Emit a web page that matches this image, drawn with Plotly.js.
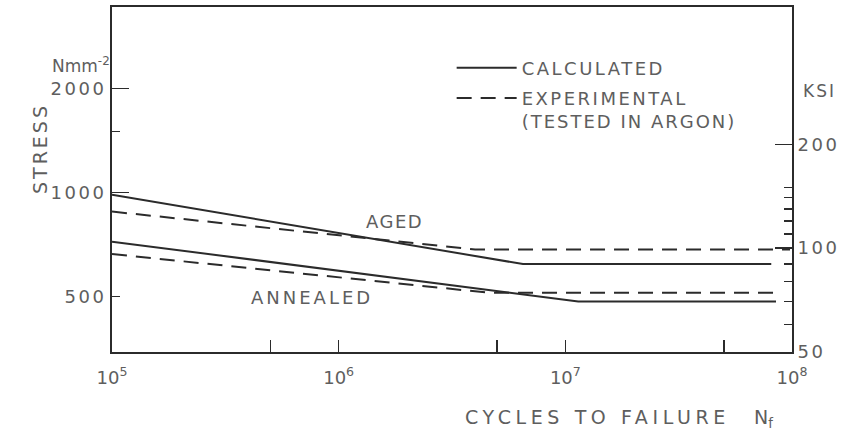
<!DOCTYPE html>
<html>
<head>
<meta charset="utf-8">
<script src="https://cdn.plot.ly/plotly-3.0.1.min.js"></script>
<style>html,body{margin:0;padding:0;background:#fff;}#chart{width:856px;height:433px;}</style>
</head>
<body>
<div id="chart"></div>
<script>
// ---- data (cycles to failure, stress in N/mm^2) ----
const agedCalcCycles = [1e5, 6.5e6, 8.1e7];
const agedCalcStress = [985, 620, 620];
const agedExpCycles = [1e5, 4.0e6, 9.8e7];
const agedExpStress = [880, 683, 683];
const annCalcCycles = [1e5, 1.14e7, 8.5e7];
const annCalcStress = [720, 483, 483];
const annExpCycles = [1e5, 4.6e6, 8.9e7];
const annExpStress = [663, 512, 512];

const xTickVals = [1e5, 1e6, 1e7, 1e8];
const xTickText = ['10<sup>5</sup>', '10<sup>6</sup>', '10<sup>7</sup>', '10<sup>8</sup>'];
const xMinorVals = [5e5, 5e6, 5e7];
const yTickVals = [500, 1000, 2000];
const yMinorVals = [1500];
const yMajorVals = [1000, 2000];
const ksiTickVals = [50, 100, 200];
const ksiMinorVals = [60, 70, 80, 90, 110, 120, 130, 140, 150];

const MPA_PER_KSI = 6.894757;
const ksiMin = 50, ksiMax = 500;

const ink = '#2b2b2b';
const txt = '#5e5e5e';
const FONT = 'DejaVu Sans, sans-serif';

const sp = (s, px) => '<span style="letter-spacing:' + px + 'px">' + s + '</span>';
const lineStyle = (dash) => ({color: ink, width: 2, dash: dash});

const traces = [
  {x: agedCalcCycles, y: agedCalcStress, mode: 'lines', line: lineStyle('solid'),
   name: sp('CALCULATED', 2.5), showlegend: true, legendgroup: 'a', hoverinfo: 'skip'},
  {x: agedExpCycles, y: agedExpStress, mode: 'lines', line: lineStyle('15px,9px'),
   name: sp('EXPERIMENTAL', 2.5) + '<br>' + sp('(TESTED IN ARGON)', 2), showlegend: true, legendgroup: 'b', hoverinfo: 'skip'},
  {x: annCalcCycles, y: annCalcStress, mode: 'lines', line: lineStyle('solid'),
   showlegend: false, hoverinfo: 'skip'},
  {x: annExpCycles, y: annExpStress, mode: 'lines', line: lineStyle('15px,9px'),
   showlegend: false, hoverinfo: 'skip'},
  {x: [], y: [], yaxis: 'y2', mode: 'lines', showlegend: false, hoverinfo: 'skip'},
  {x: [], y: [], yaxis: 'y3', mode: 'lines', showlegend: false, hoverinfo: 'skip'}
];

const yRange = [Math.log10(ksiMin * MPA_PER_KSI), Math.log10(ksiMax * MPA_PER_KSI)];

const layout = {
  width: 856, height: 433,
  margin: {l: 112, r: 64, t: 7, b: 81},
  paper_bgcolor: '#fff', plot_bgcolor: '#fff',
  font: {family: FONT, color: txt, size: 18},
  showlegend: true,
  legend: {x: 0.4995, y: 0.877, xanchor: 'left', yanchor: 'top', bgcolor: 'rgba(0,0,0,0)',
           font: {family: FONT, size: 18, color: txt}, itemwidth: 60, valign: 'top',
           traceorder: 'grouped', tracegroupgap: 4},
  xaxis: {type: 'log', range: [5, 8], showgrid: false, zeroline: false,
          showline: true, linecolor: ink, linewidth: 2, mirror: true,
          ticks: 'inside', ticklen: 12, tickwidth: 1.5, tickcolor: ink,
          tickmode: 'array', tickvals: xTickVals, ticktext: xTickText,
          tickfont: {family: FONT, size: 18, color: txt}, ticklabelstandoff: 8,
          minor: {tickmode: 'array', tickvals: xMinorVals, ticks: 'inside', ticklen: 12, tickwidth: 1.5, tickcolor: ink, showgrid: false}},
  yaxis: {type: 'log', range: yRange, showgrid: false, zeroline: false,
          showline: true, linecolor: ink, linewidth: 2,
          ticks: 'inside', ticklen: 8, tickwidth: 1.5, tickcolor: ink,
          tickmode: 'array', tickvals: yTickVals, ticktext: yTickVals.map(v => sp(String(v), 2.5)),
          tickfont: {family: FONT, size: 18, color: txt},
          minor: {tickmode: 'array', tickvals: yMinorVals, ticks: 'inside', ticklen: 8, tickwidth: 1.5, tickcolor: ink, showgrid: false}},
  yaxis3: {type: 'log', range: yRange, overlaying: 'y', anchor: 'x', side: 'left',
           showgrid: false, zeroline: false, showline: false,
           ticks: 'inside', ticklen: 17, tickwidth: 1.5, tickcolor: ink,
           tickmode: 'array', tickvals: yMajorVals, showticklabels: false},
  yaxis2: {type: 'log', range: [Math.log10(ksiMin), Math.log10(ksiMax)], overlaying: 'y', anchor: 'x', side: 'right',
           showgrid: false, zeroline: false, showline: true, linecolor: ink, linewidth: 2,
           ticks: 'inside', ticklen: 17, tickwidth: 1.5, tickcolor: ink,
           tickmode: 'array', tickvals: ksiTickVals, ticktext: ksiTickVals.map(v => sp(String(v), 2.5)),
           tickfont: {family: FONT, size: 18, color: txt},
           minor: {tickmode: 'array', tickvals: ksiMinorVals, ticks: 'inside', ticklen: 8, tickwidth: 1.5, tickcolor: ink, showgrid: false}},
  annotations: [
    {text: sp('STRESS', 3), xref: 'paper', yref: 'paper', x: -0.106, y: 0.591, textangle: -90,
     xanchor: 'center', yanchor: 'middle', showarrow: false, font: {family: FONT, size: 19, color: txt}},
    {text: 'Nmm<sup>-2</sup>', xref: 'paper', yref: 'paper', x: 0.0, y: 0.833, xanchor: 'right', yanchor: 'middle',
     showarrow: false, font: {family: FONT, size: 17, color: txt}},
    {text: sp('KSI', 2), xref: 'paper', yref: 'paper', x: 1.04, y: 0.757, xanchor: 'center', yanchor: 'middle',
     showarrow: false, font: {family: FONT, size: 17, color: txt}},
    {text: sp('CYCLES TO FAILURE', 4.6) + '    N<sub>f</sub>', xref: 'paper', yref: 'paper', x: 0.746, y: -0.194,
     xanchor: 'center', yanchor: 'middle', showarrow: false, font: {family: FONT, size: 19, color: txt}},
    {text: sp('AGED', 1.5), xref: 'paper', yref: 'paper', x: 0.415, y: 0.377, xanchor: 'center', yanchor: 'middle',
     showarrow: false, font: {family: FONT, size: 18, color: txt}},
    {text: sp('ANNEALED', 3), xref: 'paper', yref: 'paper', x: 0.294, y: 0.159, xanchor: 'center', yanchor: 'middle',
     showarrow: false, font: {family: FONT, size: 18, color: txt}}
  ]
};

Plotly.newPlot('chart', traces, layout, {displayModeBar: false, staticPlot: true});
</script>
</body>
</html>
